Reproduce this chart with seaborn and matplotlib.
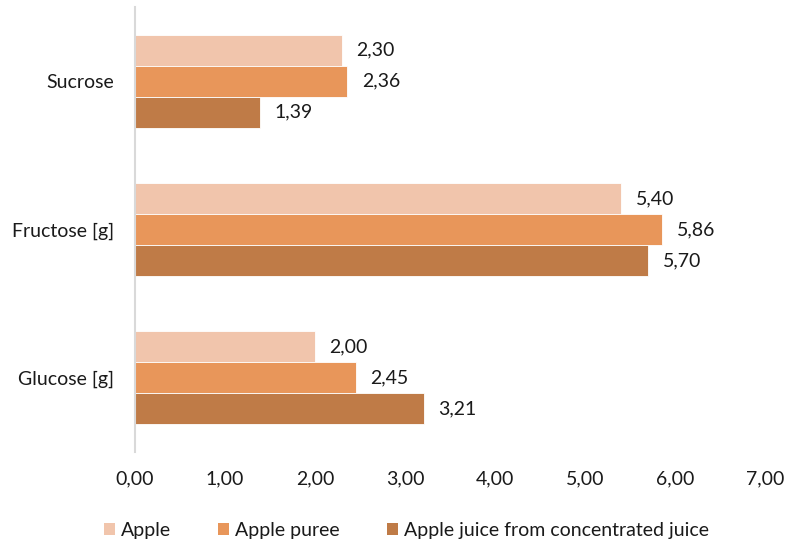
import matplotlib
matplotlib.use("Agg")
import matplotlib.pyplot as plt
from matplotlib.patches import Patch
import seaborn as sns
import pandas as pd

categories = ["Sucrose", "Fructose [g]", "Glucose [g]"]
series = ["Apple", "Apple puree", "Apple juice from concentrated juice"]
apple = [2.30, 5.40, 2.00]
apple_puree = [2.36, 5.86, 2.45]
apple_juice = [1.39, 5.70, 3.21]
x_ticks = [0, 1, 2, 3, 4, 5, 6, 7]
colors = ["#F1C5AC", "#E8965A", "#BF7B47"]

rows = []
for name, vals in zip(series, [apple, apple_puree, apple_juice]):
    for cat, v in zip(categories, vals):
        rows.append({"category": cat, "series": name, "value": v})
df = pd.DataFrame(rows)

sns.set_theme(style="white")
plt.rcParams["font.family"] = ["Lato", "DejaVu Sans"]

FS = 14
TXT = "#1a1a1a"

fig = plt.figure(figsize=(7.92, 5.44), dpi=100)
ax = fig.add_axes([0.1705, 0.169, 0.7954, 0.818])

sns.barplot(data=df, x="value", y="category", hue="series", order=categories,
            hue_order=series, palette=colors, orient="h", width=0.626, gap=0,
            saturation=1, edgecolor="white", linewidth=0.6, ax=ax)

def comma(v):
    return f"{v:.2f}".replace(".", ",")

for cont in ax.containers:
    ax.bar_label(cont, labels=[comma(v) for v in cont.datavalues],
                 padding=10.5, fontsize=FS, color=TXT)

ax.set_xlim(0, 7)
ax.set_ylim(2.5, -0.5)
ax.set_xticks(x_ticks)
ax.set_xticklabels([comma(t) for t in x_ticks], fontsize=FS, color=TXT)
ax.tick_params(axis="x", length=0, pad=13)
ax.tick_params(axis="y", length=0, pad=15, labelsize=FS, labelcolor=TXT)
ax.set_xlabel("")
ax.set_ylabel("")
for s in ["top", "right", "bottom"]:
    ax.spines[s].set_visible(False)
ax.spines["left"].set_color("#D9D9D9")
ax.spines["left"].set_linewidth(1.5)

if ax.get_legend() is not None:
    ax.get_legend().remove()
handles = [Patch(facecolor=c, edgecolor="none") for c in colors]
fig.legend(handles, series, loc="center", bbox_to_anchor=(0.513, 0.025),
           ncol=3, frameon=False, fontsize=FS, handlelength=0.6,
           handleheight=0.6, handletextpad=0.3, columnspacing=2.4,
           labelcolor=TXT)

fig.savefig("out.png", dpi=100)
